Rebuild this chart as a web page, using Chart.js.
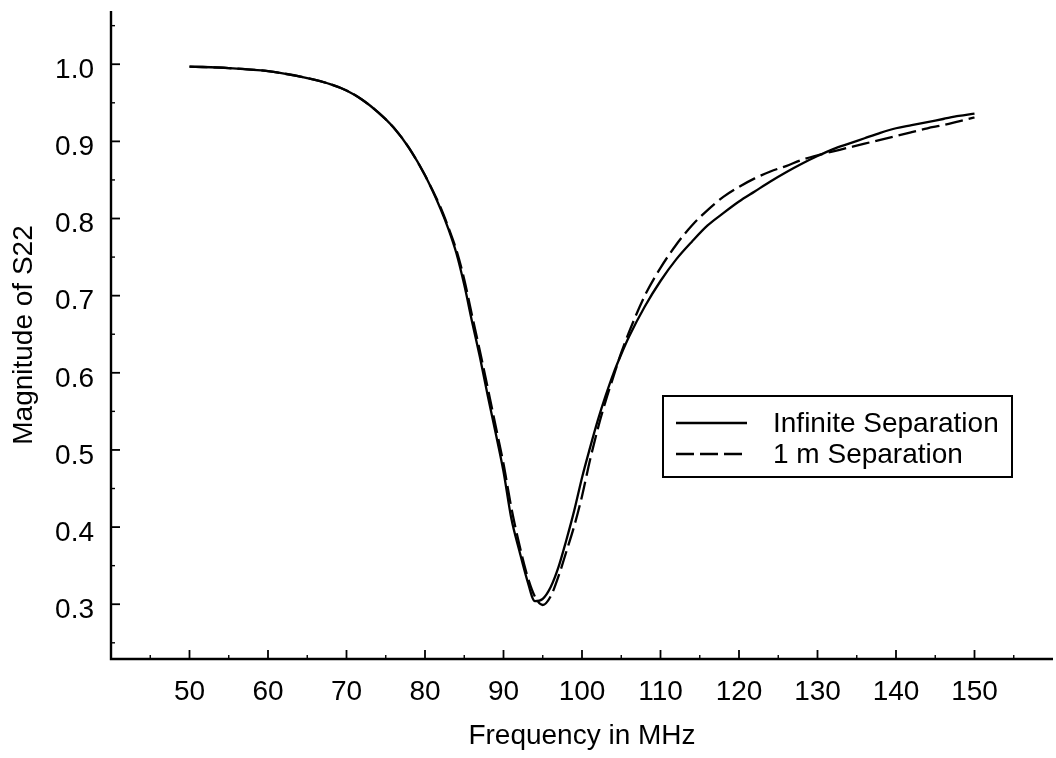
<!DOCTYPE html>
<html>
<head>
<meta charset="utf-8">
<script src="https://cdn.jsdelivr.net/npm/chart.js@4/dist/chart.umd.min.js"></script>
<style>
  html, body { margin: 0; padding: 0; background: #ffffff; }
  #wrap { width: 1056px; height: 758px; }
</style>
</head>
<body>
<div id="wrap"><canvas id="chart" width="1056" height="758"></canvas></div>
<script>
// Frequency sweep (MHz)
const frequencies = [50, 55, 60, 65, 68, 70, 72, 74, 76, 78, 80, 82, 83, 84, 85, 86, 87, 88, 89, 90,
  91, 92, 93, 94, 95, 96, 97, 98, 99, 100, 101, 102, 103, 104, 105, 106, 108, 110, 112, 114,
  116, 118, 120, 122, 124, 126, 128, 130, 132, 134, 136, 138, 140, 142, 144, 146, 148, 150];

// |S22| with the antennas infinitely far apart
const infiniteSeparation = [0.997, 0.995, 0.991, 0.982, 0.974, 0.966, 0.954, 0.938, 0.918, 0.891,
  0.856, 0.812, 0.786, 0.755, 0.714, 0.666, 0.620, 0.570, 0.522, 0.472,
  0.411, 0.370, 0.332, 0.304, 0.307, 0.322, 0.348, 0.383, 0.421, 0.464,
  0.502, 0.538, 0.570, 0.599, 0.624, 0.647, 0.686, 0.719, 0.747, 0.770,
  0.791, 0.807, 0.822, 0.835, 0.848, 0.860, 0.871, 0.881, 0.890, 0.897,
  0.904, 0.911, 0.917, 0.921, 0.925, 0.929, 0.933, 0.936];

// |S22| with the antennas 1 m apart
const oneMeterSeparation = [0.997, 0.995, 0.991, 0.982, 0.974, 0.966, 0.954, 0.938, 0.918, 0.891,
  0.856, 0.814, 0.788, 0.759, 0.721, 0.674, 0.628, 0.580, 0.531, 0.482,
  0.425, 0.378, 0.338, 0.310, 0.299, 0.310, 0.336, 0.368, 0.401, 0.440,
  0.486, 0.527, 0.563, 0.595, 0.626, 0.653, 0.700, 0.736, 0.766, 0.791,
  0.811, 0.828, 0.841, 0.852, 0.861, 0.868, 0.876, 0.882, 0.887, 0.892,
  0.897, 0.902, 0.907, 0.912, 0.917, 0.921, 0.926, 0.931];

const seriesNames = ['Infinite Separation', '1 m Separation'];
const xTickLabels = [50, 60, 70, 80, 90, 100, 110, 120, 130, 140, 150];
const yTickLabels = [0.3, 0.4, 0.5, 0.6, 0.7, 0.8, 0.9, 1.0];

const FONT = 'Liberation Sans, Arial, Helvetica, sans-serif';
const FONT_SIZE = 28;

function toPoints(values) {
  return frequencies.map((f, i) => ({ x: f, y: values[i] }));
}

function isMajorY(v) {
  return yTickLabels.some(t => Math.abs(t - v) < 1e-6);
}
function isMajorX(v) {
  return xTickLabels.some(t => Math.abs(t - v) < 1e-6);
}

// Axis lines with inward-pointing major/minor ticks, plus a boxed legend
const frameAndLegend = {
  id: 'frameAndLegend',
  afterDraw(chart) {
    const ctx = chart.ctx;
    const a = chart.chartArea;
    const xs = chart.scales.x, ys = chart.scales.y;
    ctx.save();
    ctx.strokeStyle = '#000';
    ctx.lineCap = 'butt';

    // axis lines
    ctx.lineWidth = 2.4;
    ctx.beginPath();
    ctx.moveTo(a.left, a.top);
    ctx.lineTo(a.left, a.bottom);
    ctx.lineTo(a.right, a.bottom);
    ctx.stroke();

    // x ticks
    xs.ticks.forEach(t => {
      if (t.value <= xs.min || t.value >= xs.max) return;
      const px = xs.getPixelForValue(t.value);
      const major = isMajorX(t.value);
      ctx.lineWidth = major ? 1.8 : 1.4;
      ctx.beginPath();
      ctx.moveTo(px, a.bottom);
      ctx.lineTo(px, a.bottom - (major ? 9 : 4));
      ctx.stroke();
    });

    // y ticks
    ys.ticks.forEach(t => {
      if (t.value <= ys.min || t.value >= ys.max) return;
      const py = ys.getPixelForValue(t.value);
      const major = isMajorY(t.value);
      ctx.lineWidth = major ? 1.8 : 1.4;
      ctx.beginPath();
      ctx.moveTo(a.left, py);
      ctx.lineTo(a.left + (major ? 9 : 4), py);
      ctx.stroke();
    });

    // legend box
    const bx = a.left + 552, by = a.top + 385, bw = 349, bh = 81;
    ctx.lineWidth = 2;
    ctx.strokeRect(bx, by, bw, bh);
    ctx.font = FONT_SIZE + 'px ' + FONT;
    ctx.fillStyle = '#000';
    ctx.textBaseline = 'middle';
    ctx.textAlign = 'left';
    chart.data.datasets.forEach((ds, i) => {
      const rowY = by + 27 + i * 31;
      ctx.lineWidth = ds.borderWidth;
      ctx.setLineDash(ds.borderDash || []);
      ctx.beginPath();
      ctx.moveTo(bx + 13, rowY);
      ctx.lineTo(bx + 84, rowY);
      ctx.stroke();
      ctx.setLineDash([]);
      ctx.fillText(ds.label, bx + 110, rowY + 1);
    });
    ctx.restore();
  }
};

new Chart(document.getElementById('chart'), {
  type: 'line',
  data: {
    datasets: [
      {
        label: seriesNames[0],
        data: toPoints(infiniteSeparation),
        borderColor: '#000',
        borderWidth: 2.3,
        pointRadius: 0,
        fill: false,
        cubicInterpolationMode: 'monotone'
      },
      {
        label: seriesNames[1],
        data: toPoints(oneMeterSeparation),
        borderColor: '#000',
        borderWidth: 2.3,
        borderDash: [18, 6],
        pointRadius: 0,
        fill: false,
        cubicInterpolationMode: 'monotone'
      }
    ]
  },
  options: {
    responsive: false,
    animation: false,
    layout: { padding: { top: 11, right: 3, left: 0, bottom: 0 } },
    plugins: {
      legend: { display: false },
      tooltip: { enabled: false }
    },
    scales: {
      x: {
        type: 'linear',
        min: 40,
        max: 160,
        grid: { display: false, drawTicks: false },
        border: { display: false },
        ticks: {
          stepSize: 5,
          autoSkip: false,
          maxRotation: 0,
          padding: 16,
          color: '#000',
          font: { family: FONT, size: FONT_SIZE },
          callback: v => (isMajorX(v) ? String(v) : '')
        },
        title: {
          display: true,
          text: 'Frequency in MHz',
          color: '#000',
          font: { family: FONT, size: FONT_SIZE },
          padding: { top: 5, bottom: 5 }
        },
        afterFit: s => {
          s.height = 99;
          s.paddingLeft = 0; s.paddingRight = 0;
        }
      },
      y: {
        type: 'linear',
        min: 0.229,
        max: 1.069,
        grid: { display: false, drawTicks: false },
        border: { display: false },
        ticks: {
          stepSize: 0.05,
          includeBounds: false,
          autoSkip: false,
          padding: 17,
          labelOffset: 6,
          color: '#000',
          font: { family: FONT, size: FONT_SIZE },
          callback: v => (isMajorY(v) ? v.toFixed(1) : '')
        },
        title: {
          display: true,
          text: 'Magnitude of S22',
          color: '#000',
          font: { family: FONT, size: FONT_SIZE },
          padding: { top: 7, bottom: 7 }
        },
        afterFit: s => {
          s.width = 111;
          s.paddingTop = 0; s.paddingBottom = 0;
        }
      }
    }
  },
  plugins: [frameAndLegend]
});
</script>
</body>
</html>
